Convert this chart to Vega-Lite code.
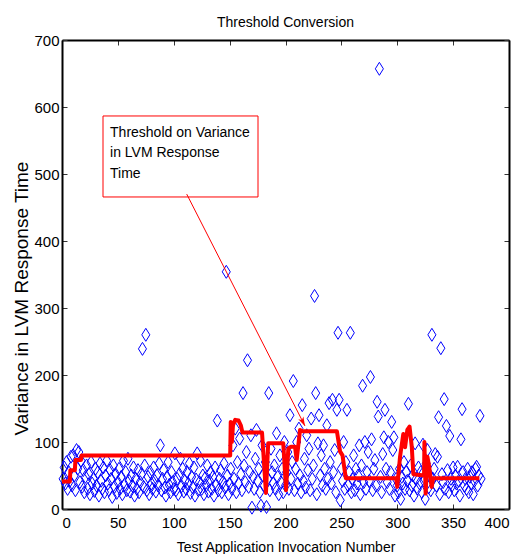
{
"$schema": "https://vega.github.io/schema/vega-lite/v6.json",
"width": 447, "height": 469,
"autosize": {"type": "none"},
"padding": {"left": 62, "top": 40, "right": 13, "bottom": 45},
"background": "white",
"title": {"text": "Threshold Conversion", "fontSize": 14, "font": "Liberation Sans", "fontWeight": "normal", "color": "black", "anchor": "middle", "baseline": "alphabetic", "offset": -8},
"config": {"view": {"stroke": null}, "axis": {"grid": false, "domainColor": "black", "domainWidth": 2, "tickColor": "#333333", "tickSize": -5, "labelFont": "Liberation Sans", "labelFontSize": 15, "labelColor": "black", "titleFont": "Liberation Sans", "titleFontWeight": "normal", "titleColor": "black"}},
"datasets": {
"pts": [
{"x":1,"y":45},{"x":2,"y":62},{"x":3,"y":38},{"x":4,"y":70},{"x":5,"y":30},{"x":6,"y":55},{"x":7,"y":42},{"x":8,"y":78},{"x":9,"y":35},{"x":10,"y":80},
{"x":11,"y":50},{"x":12,"y":28},{"x":13,"y":88},{"x":14,"y":60},{"x":15,"y":85},{"x":16,"y":40},{"x":17,"y":72},{"x":18,"y":33},{"x":19,"y":58},{"x":20,"y":25},
{"x":21,"y":48},{"x":22,"y":65},{"x":23,"y":30},{"x":24,"y":52},{"x":25,"y":22},{"x":26,"y":70},{"x":27,"y":38},{"x":28,"y":45},{"x":29,"y":27},{"x":30,"y":60},
{"x":31,"y":35},{"x":32,"y":55},{"x":33,"y":20},{"x":34,"y":68},{"x":35,"y":42},{"x":36,"y":30},{"x":37,"y":62},{"x":38,"y":25},{"x":39,"y":50},{"x":40,"y":72},
{"x":41,"y":38},{"x":42,"y":28},{"x":43,"y":58},{"x":44,"y":45},{"x":45,"y":18},{"x":46,"y":65},{"x":47,"y":33},{"x":48,"y":52},{"x":49,"y":24},{"x":50,"y":40},
{"x":51,"y":60},{"x":52,"y":30},{"x":53,"y":48},{"x":54,"y":22},{"x":55,"y":72},{"x":56,"y":36},{"x":57,"y":55},{"x":58,"y":28},{"x":59,"y":75},{"x":60,"y":42},
{"x":61,"y":26},{"x":62,"y":50},{"x":63,"y":35},{"x":64,"y":62},{"x":65,"y":20},{"x":66,"y":45},{"x":67,"y":30},{"x":68,"y":58},{"x":69,"y":25},{"x":70,"y":40},
{"x":71,"y":52},{"x":72,"y":239},{"x":73,"y":33},{"x":74,"y":65},{"x":75,"y":260},{"x":76,"y":28},{"x":77,"y":48},{"x":78,"y":22},{"x":79,"y":55},{"x":80,"y":38},
{"x":81,"y":30},{"x":82,"y":62},{"x":83,"y":42},{"x":84,"y":26},{"x":85,"y":50},{"x":86,"y":35},{"x":87,"y":68},{"x":88,"y":95},{"x":89,"y":28},{"x":90,"y":45},
{"x":91,"y":58},{"x":92,"y":32},{"x":93,"y":20},{"x":94,"y":48},{"x":95,"y":70},{"x":96,"y":36},{"x":97,"y":25},{"x":98,"y":55},{"x":99,"y":40},{"x":100,"y":30},
{"x":101,"y":83},{"x":102,"y":28},{"x":103,"y":45},{"x":104,"y":22},{"x":105,"y":52},{"x":106,"y":75},{"x":107,"y":34},{"x":108,"y":60},{"x":109,"y":26},{"x":110,"y":42},
{"x":111,"y":30},{"x":112,"y":55},{"x":113,"y":38},{"x":114,"y":68},{"x":115,"y":24},{"x":116,"y":48},{"x":117,"y":32},{"x":118,"y":62},{"x":119,"y":20},{"x":120,"y":44},
{"x":121,"y":83},{"x":122,"y":28},{"x":123,"y":40},{"x":124,"y":72},{"x":125,"y":30},{"x":126,"y":50},{"x":127,"y":22},{"x":128,"y":46},{"x":129,"y":35},{"x":130,"y":65},
{"x":131,"y":26},{"x":132,"y":42},{"x":133,"y":55},{"x":134,"y":30},{"x":135,"y":48},{"x":136,"y":20},{"x":137,"y":62},{"x":138,"y":36},{"x":139,"y":132},{"x":140,"y":28},
{"x":141,"y":45},{"x":142,"y":58},{"x":143,"y":25},{"x":144,"y":40},{"x":145,"y":68},{"x":146,"y":32},{"x":147,"y":354},{"x":148,"y":50},{"x":149,"y":22},{"x":150,"y":38},
{"x":151,"y":60},{"x":152,"y":30},{"x":153,"y":95},{"x":154,"y":45},{"x":155,"y":120},{"x":156,"y":25},{"x":157,"y":70},{"x":158,"y":38},{"x":159,"y":105},{"x":160,"y":52},
{"x":161,"y":28},{"x":162,"y":173},{"x":163,"y":65},{"x":164,"y":40},{"x":165,"y":85},{"x":166,"y":222},{"x":167,"y":33},{"x":168,"y":55},{"x":169,"y":110},{"x":170,"y":2},
{"x":171,"y":48},{"x":172,"y":30},{"x":173,"y":75},{"x":174,"y":118},{"x":175,"y":42},{"x":176,"y":60},{"x":177,"y":25},{"x":178,"y":5},{"x":179,"y":95},{"x":180,"y":50},
{"x":181,"y":35},{"x":182,"y":70},{"x":183,"y":3},{"x":184,"y":45},{"x":185,"y":173},{"x":186,"y":28},{"x":187,"y":90},{"x":188,"y":55},{"x":189,"y":38},{"x":190,"y":65},
{"x":191,"y":30},{"x":192,"y":113},{"x":193,"y":48},{"x":194,"y":22},{"x":195,"y":80},{"x":196,"y":40},{"x":197,"y":60},{"x":198,"y":25},{"x":199,"y":100},{"x":200,"y":35},
{"x":201,"y":55},{"x":202,"y":85},{"x":203,"y":30},{"x":204,"y":140},{"x":205,"y":45},{"x":206,"y":70},{"x":207,"y":191},{"x":208,"y":28},{"x":209,"y":60},{"x":210,"y":100},
{"x":211,"y":38},{"x":212,"y":120},{"x":213,"y":50},{"x":214,"y":25},{"x":215,"y":155},{"x":216,"y":42},{"x":217,"y":75},{"x":218,"y":32},{"x":219,"y":110},{"x":220,"y":58},
{"x":221,"y":90},{"x":222,"y":28},{"x":223,"y":135},{"x":224,"y":45},{"x":225,"y":65},{"x":226,"y":318},{"x":227,"y":173},{"x":228,"y":22},{"x":229,"y":98},{"x":230,"y":140},
{"x":231,"y":50},{"x":232,"y":80},{"x":233,"y":35},{"x":234,"y":95},{"x":235,"y":60},{"x":236,"y":30},{"x":237,"y":125},{"x":238,"y":45},{"x":239,"y":158},{"x":240,"y":70},
{"x":241,"y":38},{"x":242,"y":163},{"x":243,"y":55},{"x":244,"y":88},{"x":245,"y":25},{"x":246,"y":148},{"x":247,"y":263},{"x":248,"y":163},{"x":249,"y":13},{"x":250,"y":60},
{"x":251,"y":42},{"x":252,"y":100},{"x":253,"y":30},{"x":254,"y":70},{"x":255,"y":148},{"x":256,"y":35},{"x":257,"y":55},{"x":258,"y":263},{"x":259,"y":25},{"x":260,"y":45},
{"x":261,"y":80},{"x":262,"y":28},{"x":263,"y":60},{"x":264,"y":38},{"x":265,"y":50},{"x":266,"y":95},{"x":267,"y":22},{"x":268,"y":65},{"x":269,"y":184},{"x":270,"y":40},
{"x":271,"y":100},{"x":272,"y":30},{"x":273,"y":55},{"x":274,"y":85},{"x":275,"y":42},{"x":276,"y":197},{"x":277,"y":104},{"x":278,"y":28},{"x":279,"y":60},{"x":280,"y":73},
{"x":281,"y":35},{"x":282,"y":160},{"x":283,"y":138},{"x":284,"y":657},{"x":285,"y":48},{"x":286,"y":25},{"x":287,"y":82},{"x":288,"y":107},{"x":289,"y":148},{"x":290,"y":60},
{"x":291,"y":40},{"x":292,"y":100},{"x":293,"y":30},{"x":294,"y":55},{"x":295,"y":130},{"x":296,"y":88},{"x":297,"y":107},{"x":298,"y":20},{"x":299,"y":45},{"x":300,"y":35},
{"x":301,"y":25},{"x":302,"y":60},{"x":303,"y":15},{"x":304,"y":48},{"x":305,"y":38},{"x":306,"y":70},{"x":307,"y":30},{"x":308,"y":55},{"x":309,"y":42},{"x":310,"y":157},
{"x":311,"y":28},{"x":312,"y":65},{"x":313,"y":35},{"x":314,"y":50},{"x":315,"y":20},{"x":316,"y":98},{"x":317,"y":45},{"x":318,"y":30},{"x":319,"y":62},{"x":320,"y":38},
{"x":321,"y":55},{"x":322,"y":25},{"x":323,"y":96},{"x":324,"y":42},{"x":325,"y":15},{"x":326,"y":68},{"x":327,"y":88},{"x":328,"y":32},{"x":329,"y":50},{"x":330,"y":28},
{"x":331,"y":260},{"x":332,"y":45},{"x":333,"y":60},{"x":334,"y":82},{"x":335,"y":35},{"x":336,"y":78},{"x":337,"y":137},{"x":338,"y":22},{"x":339,"y":240},{"x":340,"y":52},
{"x":341,"y":40},{"x":342,"y":164},{"x":343,"y":30},{"x":344,"y":124},{"x":345,"y":58},{"x":346,"y":25},{"x":347,"y":109},{"x":348,"y":45},{"x":349,"y":35},{"x":350,"y":62},
{"x":351,"y":28},{"x":352,"y":50},{"x":353,"y":38},{"x":354,"y":63},{"x":355,"y":42},{"x":356,"y":20},{"x":357,"y":104},{"x":358,"y":149},{"x":359,"y":55},{"x":360,"y":35},
{"x":361,"y":45},{"x":362,"y":30},{"x":363,"y":60},{"x":364,"y":25},{"x":365,"y":48},{"x":366,"y":38},{"x":367,"y":55},{"x":368,"y":22},{"x":369,"y":42},{"x":370,"y":60},
{"x":371,"y":63},{"x":372,"y":35},{"x":373,"y":50},{"x":374,"y":139},{"x":375,"y":45}
],
"thr": [
{"x":0,"t":41},{"x":7,"t":41},{"x":7.5,"t":58},{"x":11.5,"t":58},{"x":12,"t":73},{"x":17,"t":73},{"x":17.5,"t":80},{"x":150.5,"t":80},{"x":151,"t":130},{"x":152,"t":100},{"x":153,"t":125},{"x":155,"t":133},{"x":158,"t":132},{"x":160,"t":125},{"x":161.5,"t":114},{"x":179,"t":114},{"x":182.5,"t":24},{"x":184.5,"t":98},{"x":198,"t":98},{"x":200.5,"t":28},{"x":202.5,"t":90},{"x":205,"t":93},{"x":208.5,"t":93},{"x":210,"t":73},{"x":211,"t":88},{"x":213,"t":118},{"x":215.5,"t":116},{"x":246,"t":116},{"x":248.8,"t":86},{"x":251,"t":80},{"x":254,"t":46},{"x":299,"t":46},{"x":300,"t":33},{"x":302.5,"t":78},{"x":305.4,"t":112},{"x":307,"t":92},{"x":309,"t":118},{"x":311,"t":123},{"x":313,"t":93},{"x":314.4,"t":52},{"x":324,"t":50},{"x":324.3,"t":100},{"x":325.4,"t":23},{"x":327,"t":78},{"x":328.6,"t":63},{"x":330.8,"t":33},{"x":332.2,"t":46},{"x":373.5,"t":46}
],
"box": [{"x1":36.7,"x2":175.4,"y1":465.7,"y2":586.6}],
"txt": [{"x":43,"y":555,"t":"Threshold on Variance"},{"x":43,"y":525,"t":"in LVM Response"},{"x":43,"y":494,"t":"Time"}],
"arr": [{"x1":111.6,"y1":470,"x2":217.4,"y2":124}]
},
"layer": [
{"data": {"name": "pts"},
 "mark": {"type": "point", "shape": "M0,-1L0.62,0L0,1L-0.62,0Z", "filled": false, "color": "#0000ff", "strokeWidth": 1, "size": 169, "opacity": 1},
 "encoding": {
  "x": {"field": "x", "type": "quantitative", "scale": {"domain": [0, 400], "nice": false}, "axis": {"values": [0,50,100,150,200,250,300,350,400], "title": "Test Application Invocation Number", "titleFontSize": 14, "titleX": 223.5, "titleY": 42, "titleBaseline": "alphabetic", "titleAlign": "center", "labelPadding": 11}},
  "y": {"field": "y", "type": "quantitative", "scale": {"domain": [0, 700], "nice": false}, "axis": {"values": [0,100,200,300,400,500,600,700], "title": "Variance in LVM Response Time", "titleFontSize": 19, "titleX": -35, "titleY": 258, "titleAngle": 270, "titleAlign": "center", "titleBaseline": "alphabetic", "labelPadding": 8}}
 }},
{"data": {"name": "thr"},
 "mark": {"type": "line", "color": "#ff0000", "strokeWidth": 4, "strokeJoin": "round"},
 "encoding": {
  "x": {"field": "x", "type": "quantitative", "axis": {"orient": "top", "labels": false, "title": null, "values": [0,50,100,150,200,250,300,350,400]}},
  "y": {"field": "t", "type": "quantitative", "axis": {"orient": "right", "labels": false, "title": null, "values": [0,100,200,300,400,500,600,700]}}
 }},
{"data": {"name": "box"},
 "mark": {"type": "rect", "fill": "white", "stroke": "#ff0000", "strokeWidth": 1},
 "encoding": {
  "x": {"field": "x1", "type": "quantitative", "axis": null}, "x2": {"field": "x2"},
  "y": {"field": "y1", "type": "quantitative", "axis": null}, "y2": {"field": "y2"}
 }},
{"data": {"name": "txt"},
 "mark": {"type": "text", "align": "left", "baseline": "alphabetic", "font": "Liberation Sans", "fontSize": 14, "color": "black"},
 "encoding": {
  "x": {"field": "x", "type": "quantitative", "axis": null},
  "y": {"field": "y", "type": "quantitative", "axis": null},
  "text": {"field": "t"}
 }},
{"data": {"name": "arr"},
 "mark": {"type": "rule", "color": "#ff0000", "strokeWidth": 1},
 "encoding": {
  "x": {"field": "x1", "type": "quantitative", "axis": null}, "x2": {"field": "x2"},
  "y": {"field": "y1", "type": "quantitative", "axis": null}, "y2": {"field": "y2"}
 }},
{"data": {"name": "arr"},
 "mark": {"type": "point", "shape": "M0,0L-1,-0.32L-0.75,0L-1,0.32Z", "filled": true, "color": "#ff0000", "size": 324, "angle": 63, "opacity": 1},
 "encoding": {
  "x": {"field": "x2", "type": "quantitative", "axis": null},
  "y": {"field": "y2", "type": "quantitative", "axis": null}
 }}
],
"resolve": {"axis": {"x": "independent", "y": "independent"}}
}
